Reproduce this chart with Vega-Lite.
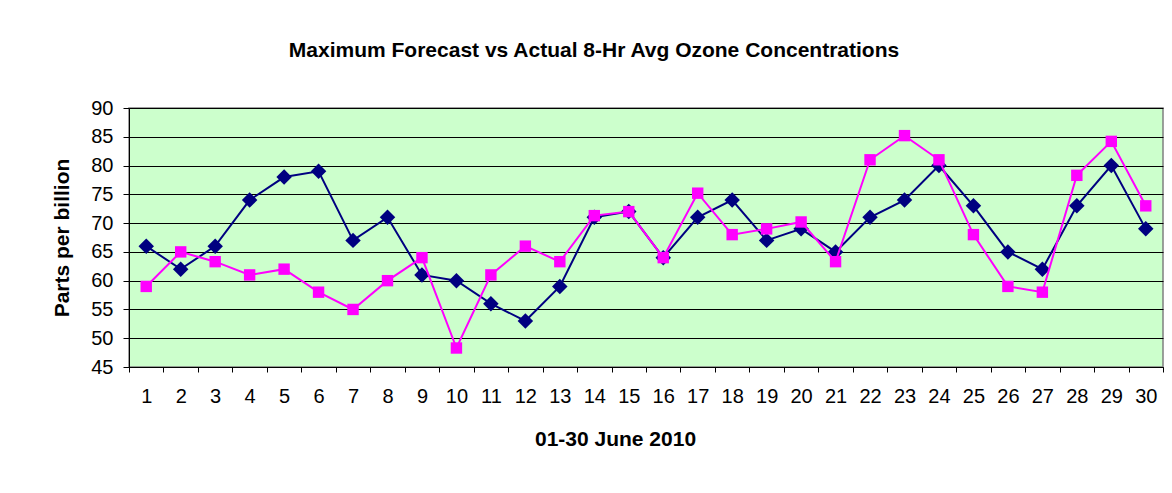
{
  "$schema": "https://vega.github.io/schema/vega-lite/v6.json",
  "width": 1034,
  "height": 259,
  "autosize": {"type": "none"},
  "padding": {"left": 129, "top": 108, "right": 9, "bottom": 126},
  "background": "white",
  "title": {
    "text": "Maximum Forecast vs Actual 8-Hr Avg Ozone Concentrations",
    "font": "Liberation Sans",
    "fontSize": 21,
    "fontWeight": "bold",
    "color": "black",
    "anchor": "middle",
    "dx": -52,
    "offset": 37
  },
  "config": {
    "view": {"fill": "#CCFFCC", "stroke": "#808080", "strokeWidth": 1.5},
    "axis": {
      "labelFont": "Liberation Sans",
      "labelFontSize": 20,
      "labelColor": "black",
      "titleFont": "Liberation Sans",
      "titleFontSize": 21,
      "titleFontWeight": "bold",
      "titleColor": "black",
      "domainColor": "black",
      "tickColor": "black",
      "gridColor": "black",
      "gridOpacity": 1
    }
  },
  "data": {
    "values": [
      {"day": 1, "series": "Forecast", "ppb": 66}, {"day": 1, "series": "Actual", "ppb": 59},
      {"day": 2, "series": "Forecast", "ppb": 62}, {"day": 2, "series": "Actual", "ppb": 65},
      {"day": 3, "series": "Forecast", "ppb": 66}, {"day": 3, "series": "Actual", "ppb": 63.3},
      {"day": 4, "series": "Forecast", "ppb": 74}, {"day": 4, "series": "Actual", "ppb": 61},
      {"day": 5, "series": "Forecast", "ppb": 78}, {"day": 5, "series": "Actual", "ppb": 62},
      {"day": 6, "series": "Forecast", "ppb": 79}, {"day": 6, "series": "Actual", "ppb": 58},
      {"day": 7, "series": "Forecast", "ppb": 67}, {"day": 7, "series": "Actual", "ppb": 55},
      {"day": 8, "series": "Forecast", "ppb": 71}, {"day": 8, "series": "Actual", "ppb": 60},
      {"day": 9, "series": "Forecast", "ppb": 61}, {"day": 9, "series": "Actual", "ppb": 64},
      {"day": 10, "series": "Forecast", "ppb": 60}, {"day": 10, "series": "Actual", "ppb": 48.3},
      {"day": 11, "series": "Forecast", "ppb": 56}, {"day": 11, "series": "Actual", "ppb": 61},
      {"day": 12, "series": "Forecast", "ppb": 53}, {"day": 12, "series": "Actual", "ppb": 66},
      {"day": 13, "series": "Forecast", "ppb": 59}, {"day": 13, "series": "Actual", "ppb": 63.3},
      {"day": 14, "series": "Forecast", "ppb": 71}, {"day": 14, "series": "Actual", "ppb": 71.3},
      {"day": 15, "series": "Forecast", "ppb": 72}, {"day": 15, "series": "Actual", "ppb": 72},
      {"day": 16, "series": "Forecast", "ppb": 64}, {"day": 16, "series": "Actual", "ppb": 64},
      {"day": 17, "series": "Forecast", "ppb": 71}, {"day": 17, "series": "Actual", "ppb": 75.2},
      {"day": 18, "series": "Forecast", "ppb": 74}, {"day": 18, "series": "Actual", "ppb": 68},
      {"day": 19, "series": "Forecast", "ppb": 67}, {"day": 19, "series": "Actual", "ppb": 69},
      {"day": 20, "series": "Forecast", "ppb": 69}, {"day": 20, "series": "Actual", "ppb": 70.2},
      {"day": 21, "series": "Forecast", "ppb": 65}, {"day": 21, "series": "Actual", "ppb": 63.3},
      {"day": 22, "series": "Forecast", "ppb": 71}, {"day": 22, "series": "Actual", "ppb": 81},
      {"day": 23, "series": "Forecast", "ppb": 74}, {"day": 23, "series": "Actual", "ppb": 85.2},
      {"day": 24, "series": "Forecast", "ppb": 80}, {"day": 24, "series": "Actual", "ppb": 81},
      {"day": 25, "series": "Forecast", "ppb": 73}, {"day": 25, "series": "Actual", "ppb": 68},
      {"day": 26, "series": "Forecast", "ppb": 65}, {"day": 26, "series": "Actual", "ppb": 59},
      {"day": 27, "series": "Forecast", "ppb": 62}, {"day": 27, "series": "Actual", "ppb": 58},
      {"day": 28, "series": "Forecast", "ppb": 73}, {"day": 28, "series": "Actual", "ppb": 78.3},
      {"day": 29, "series": "Forecast", "ppb": 80}, {"day": 29, "series": "Actual", "ppb": 84.2},
      {"day": 30, "series": "Forecast", "ppb": 69}, {"day": 30, "series": "Actual", "ppb": 73}
    ]
  },
  "encoding": {
    "x": {
      "field": "day",
      "type": "ordinal",
      "bandPosition": 0.5,
      "scale": {"type": "band", "paddingInner": 0, "paddingOuter": 0},
      "axis": {
        "title": "01-30 June 2010",
        "labelAngle": 0,
        "tickBand": "extent",
        "tickSize": 5,
        "labelPadding": 14,
        "grid": false,
        "titleX": 486,
        "titleY": 72,
        "titleBaseline": "middle"
      }
    },
    "y": {
      "field": "ppb",
      "type": "quantitative",
      "scale": {"domain": [45, 90], "nice": false, "zero": false},
      "axis": {
        "title": "Parts per billion",
        "values": [45, 50, 55, 60, 65, 70, 75, 80, 85, 90],
        "tickSize": 6,
        "labelPadding": 10,
        "titleX": -67,
        "titleY": 129.5,
        "titleAngle": -90,
        "titleAlign": "center",
        "titleBaseline": "middle",
        "grid": true,
        "gridWidth": 1
      }
    },
    "color": {
      "field": "series",
      "type": "nominal",
      "scale": {"domain": ["Forecast", "Actual"], "range": ["#000080", "#FF00FF"]},
      "legend": null
    }
  },
  "layer": [
    {
      "transform": [{"filter": "datum.series === 'Forecast'"}],
      "layer": [
        {"mark": {"type": "line", "strokeWidth": 2}},
        {"mark": {"type": "point", "shape": "diamond", "filled": true, "size": 240, "opacity": 1}}
      ]
    },
    {
      "transform": [{"filter": "datum.series === 'Actual'"}],
      "layer": [
        {"mark": {"type": "line", "strokeWidth": 2}},
        {"mark": {"type": "point", "shape": "square", "filled": true, "size": 130, "opacity": 1}}
      ]
    }
  ]
}
